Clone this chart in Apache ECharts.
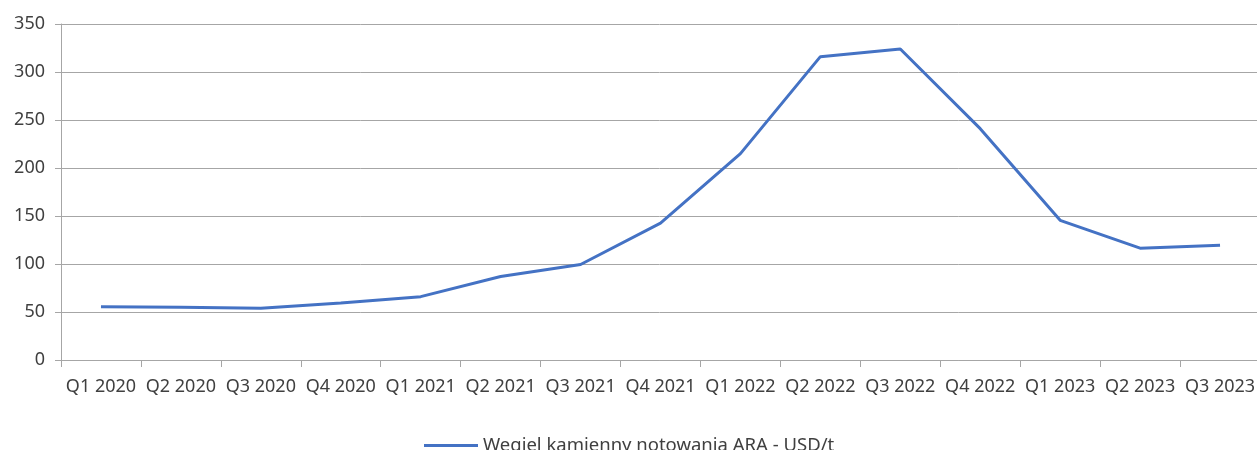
<!DOCTYPE html>
<html>
<head>
<meta charset="utf-8">
<script src="https://cdn.jsdelivr.net/npm/echarts@6/dist/echarts.min.js"></script>
<style>
  html, body { margin: 0; padding: 0; background: #fff; }
  #chart { width: 1257px; height: 450px; }
</style>
</head>
<body>
<div id="chart"></div>
<script>
const quarters = ['Q1 2020', 'Q2 2020', 'Q3 2020', 'Q4 2020', 'Q1 2021', 'Q2 2021', 'Q3 2021', 'Q4 2021',
  'Q1 2022', 'Q2 2022', 'Q3 2022', 'Q4 2022', 'Q1 2023', 'Q2 2023', 'Q3 2023']
const coalPrice = [55.5, 55, 53.8, 59.5, 66, 87, 99.5, 142.5, 215, 316, 324, 241, 145.5, 116.5, 119.5]
const seriesName = 'Węgiel kamienny notowania ARA - USD/t'

const font = '"Noto Sans", "Open Sans", sans-serif'
const textColor = '#404040'
const lineGray = '#a6a6a6'

const chart = echarts.init(document.getElementById('chart'))
chart.setOption({
  animation: false,
  grid: {
    left: 61,
    right: -3,
    top: 24,
    bottom: 90,
    outerBoundsMode: 'none'
  },
  legend: {
    data: [seriesName],
    left: 419,
    top: 431,
    icon: 'rect',
    itemWidth: 54,
    itemHeight: 3,
    textStyle: { fontFamily: font, fontSize: 18.5, color: textColor }
  },
  xAxis: {
    type: 'category',
    data: quarters,
    boundaryGap: true,
    axisLine: { lineStyle: { color: lineGray, width: 1 } },
    axisTick: { show: true, length: 7, alignWithLabel: false, lineStyle: { color: lineGray } },
    axisLabel: { fontFamily: font, fontSize: 18, color: textColor, margin: 18, interval: 0 }
  },
  yAxis: {
    type: 'value',
    min: 0,
    max: 350,
    interval: 50,
    axisLine: { show: true, lineStyle: { color: lineGray, width: 1 } },
    axisTick: { show: true, length: 6, lineStyle: { color: lineGray } },
    splitLine: { lineStyle: { color: lineGray, width: 1 } },
    axisLabel: { fontFamily: font, fontSize: 18, color: textColor, margin: 16 }
  },
  series: [
    {
      name: seriesName,
      type: 'line',
      data: coalPrice,
      showSymbol: false,
      symbol: 'none',
      lineStyle: { color: '#4472c4', width: 3 },
      itemStyle: { color: '#4472c4' }
    }
  ]
})
</script>
</body>
</html>
